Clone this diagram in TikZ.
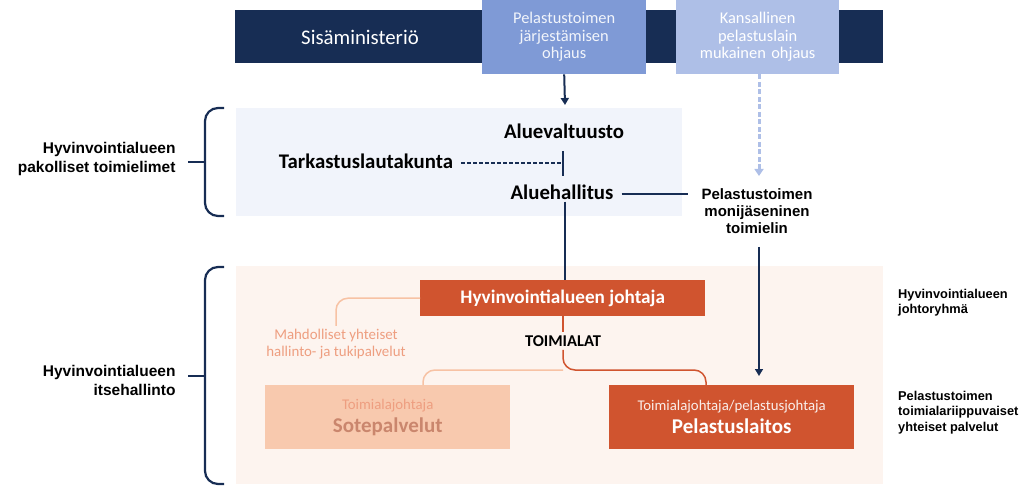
\documentclass[tikz,border=0pt]{standalone}
\usepackage{fontspec}
\setmainfont{Carlito}
\newfontfamily\sidefont{Liberation Sans}
\usetikzlibrary{arrows.meta,positioning}

\definecolor{navy}{HTML}{172D54}
\definecolor{midblue}{HTML}{7F9AD6}
\definecolor{lightblue}{HTML}{AEBFE7}
\definecolor{panelblue}{HTML}{F1F4FB}
\definecolor{panelpeach}{HTML}{FDF4EF}
\definecolor{rescue}{HTML}{D0542F}
\definecolor{peach}{HTML}{F8C9AE}
\definecolor{peachline}{HTML}{F7C2A4}
\definecolor{peachtext}{HTML}{EE9E80}

\begin{document}
\begin{tikzpicture}[x=1pt,y=-1pt,
    guide/.style={anchor=north west, inner sep=0pt, align=center},
    council/.style={font=\fontsize{20.8}{24}\selectfont\bfseries, inner sep=2pt},
    sidelabel/.style={font=\sidefont\fontsize{15.5}{19}\selectfont\bfseries, align=right, anchor=east},
    notelabel/.style={font=\sidefont\fontsize{12.8}{15.5}\selectfont\bfseries, align=left, anchor=north west, inner sep=0pt},
    sector/.style={anchor=north west, minimum width=245pt, minimum height=64pt, inner sep=0pt, align=center},
    bracket/.style={navy, line width=2.2pt, rounded corners=13pt}]
  \useasboundingbox (0,0) rectangle (1023,486);

  % background panels
  \fill[panelblue] (236,108) rectangle (682,216);
  \fill[panelpeach] (236,266) rectangle (883,484);

  % ministry bar and the two guidance boxes
  \node[fill=navy, anchor=north west, minimum width=648pt, minimum height=53pt, inner sep=0pt] (sm) at (235,10) {};
  \node[text=white, font=\fontsize{20.8}{24}\selectfont] (smtext) at (360,37) {Sisäministeriö};
  \node[guide, fill=midblue, minimum width=164pt, minimum height=74pt, text width=164pt,
        text=white!90!midblue, font=\fontsize{16.4}{17.5}\selectfont] (ohjaus1) at (482,0) {Pelastustoimen\\järjestämisen\\ohjaus};
  \node[guide, fill=lightblue, minimum width=163pt, minimum height=74pt, text width=163pt,
        text=white, font=\fontsize{16.4}{17.5}\selectfont] (ohjaus2) at (676,0) {Kansallinen\\pelastuslain\\mukainen ohjaus};

  % compulsory organs
  \node[council] (valtuusto) at (564,131) {Aluevaltuusto};
  \node[council] (tarkastus) at (366,161) {Tarkastuslautakunta};
  \node[council] (hallitus) at (562,192) {Aluehallitus};
  \node[font=\sidefont\fontsize{15}{17}\selectfont\bfseries, align=center, anchor=north] (monijas) at (757,185)
        {Pelastustoimen\\monijäseninen\\toimielin};

  \coordinate (valtop) at (565,105);
  \coordinate (monitop) at (759,176);
  \coordinate (pelarrow) at (759,376);
  \coordinate (split) at (563,163);

  \draw[navy, line width=2pt, -{Triangle[length=7pt,width=8pt]}] (ohjaus1.south) -- (valtop);
  \draw[lightblue, line width=3pt, dash pattern=on 5pt off 2.5pt, -{Triangle[length=7pt,width=9pt]}] (ohjaus2.south -| monitop) -- (monitop);
  \draw[navy, line width=1.5pt] (563,151) -- (563,176);
  \draw[navy, line width=1.2pt, dash pattern=on 3.5pt off 2.5pt] (tarkastus.east) ++(6,2) -- (split);
  \draw[navy, line width=1.5pt] (hallitus.east) ++(6,2) -- (688,194);

  % self-government
  \node[fill=rescue, anchor=north west, minimum width=285pt, minimum height=36pt, inner sep=0pt,
        text=white, font=\fontsize{19.2}{21}\selectfont\bfseries] (johtaja) at (420,280) {Hyvinvointialueen johtaja};
  \node[font=\fontsize{16.5}{18}\selectfont\bfseries] (toimialat) at (563,341) {TOIMIALAT};
  \node[text=peachtext, font=\fontsize{14.9}{16.5}\selectfont, align=center, anchor=north] (mahd) at (336,326)
        {Mahdolliset yhteiset\\hallinto- ja tukipalvelut};
  \node[sector, fill=peach] (sote) at (265,385)
        {{\color{peachtext}\fontsize{14.8}{16}\selectfont Toimialajohtaja}\\[5pt]
         {\color{peachtext!85!black}\fontsize{21}{23}\selectfont\bfseries Sotepalvelut}};
  \node[sector, fill=rescue, text=white] (pelastus) at (609,385)
        {{\color{white!90!rescue}\fontsize{14.8}{16}\selectfont Toimialajohtaja/pelastusjohtaja}\\[5pt]
         {\fontsize{21}{23}\selectfont\bfseries Pelastuslaitos}};

  \coordinate (branch) at (563,370);

  \draw[navy, line width=2pt] (hallitus.south) ++(3,0) -- (565,280);
  \draw[navy, line width=1.5pt, -{Triangle[length=7pt,width=8pt]}] (759,247) -- (pelarrow);
  \draw[peachline, line width=1.5pt, rounded corners=12pt] (johtaja.west) -| (mahd.north);
  \draw[rescue, line width=1.5pt] (johtaja.south -| toimialat) -- (toimialat.north);
  \draw[peachline, line width=1.5pt, rounded corners=12pt] (branch) -| ([xshift=158pt]sote.north west);
  \draw[rescue, line width=1.5pt, rounded corners=12pt] (toimialat.south) -- (branch) -| ([xshift=97pt]pelastus.north west);

  % brackets and side labels
  \draw[bracket] (224,108) -- (205,108) -- (205,216) -- (224,216);
  \draw[navy, line width=1.5pt] (188,162) -- (205,162);
  \draw[bracket] (224,267) -- (205,267) -- (205,484) -- (224,484);
  \draw[navy, line width=1.5pt] (188,376) -- (205,376);
  \node[sidelabel] (pakolliset) at (179,159) {Hyvinvointialueen\\pakolliset toimielimet};
  \node[sidelabel] (itsehallinto) at (179,380) {Hyvinvointialueen\\itsehallinto};
  \node[notelabel] (johtoryhma) at (898,289) {Hyvinvointialueen\\johtoryhmä};
  \node[notelabel] (palvelut) at (898,391) {Pelastustoimen\\toimialariippuvaiset\\yhteiset palvelut};
\end{tikzpicture}
\end{document}
